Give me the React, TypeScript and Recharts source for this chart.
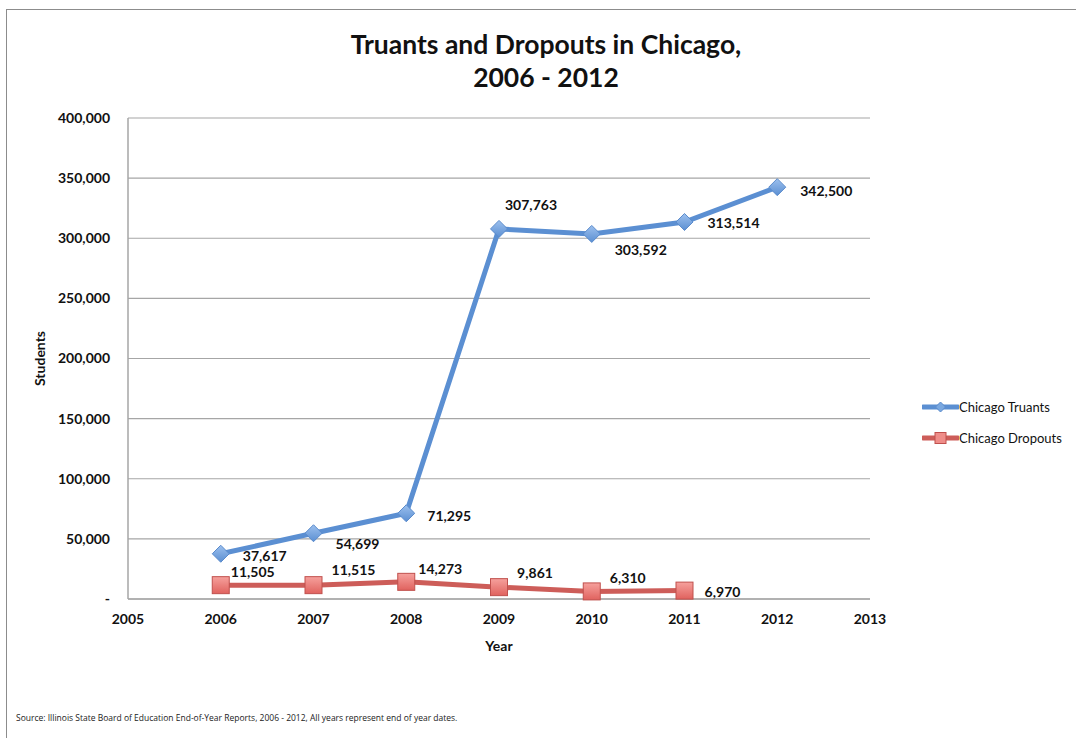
import { LineChart, Line, XAxis, YAxis, CartesianGrid, LabelList } from 'recharts';

const years = [2006, 2007, 2008, 2009, 2010, 2011, 2012];
const truants = [37617, 54699, 71295, 307763, 303592, 313514, 342500];
const dropouts = [11505, 11515, 14273, 9861, 6310, 6970, null];
const xTicks = [2005, 2006, 2007, 2008, 2009, 2010, 2011, 2012, 2013];
const yTicks = [0, 50000, 100000, 150000, 200000, 250000, 300000, 350000, 400000];

const data = years.map((year, i) => ({
    year,
    truants: truants[i],
    dropouts: dropouts[i],
}));

// label nudges (dx, dy) from each marker, Excel-style placement
const truantOffsets = [[44, 2], [44, 10], [43, 2], [32, -24], [49, 16], [49, 1], [49, 3]];
const dropoutOffsets = [[32, -14], [40, -16], [34, -13], [36, -15], [36, -14], [38, 1]];

const BLUE = '#5b8fd2';
const RED = '#cd5d59';
const FONT = 'Lato, "Open Sans", sans-serif';

const fmt = (v: number) => (v === 0 ? '-' : v.toLocaleString('en-US'));

const Diamond = ({ cx, cy }: any) => {
    if (cx == null || cy == null) return null;
    const r = 8.5;
    return (
        <path
            d={`M${cx},${cy - r} L${cx + r},${cy} L${cx},${cy + r} L${cx - r},${cy} Z`}
            fill="url(#blueMark)"
            stroke="#5a8bcc"
            strokeWidth={1}
        />
    );
};

const Square = ({ cx, cy }: any) => {
    if (cx == null || cy == null) return null;
    const s = 8.5;
    return (
        <rect x={cx - s} y={cy - s} width={s * 2} height={s * 2} fill="url(#redMark)" stroke="#c0504d" strokeWidth={1} />
    );
};

const makeLabel = (offsets: number[][]) => (props: any) => {
    const { x, y, value, index } = props;
    if (value == null) return null;
    const [dx, dy] = offsets[index] || [40, 0];
    return (
        <text
            x={x + dx}
            y={y + dy}
            textAnchor="middle"
            dominantBaseline="central"
            fontFamily={FONT}
            fontWeight={700}
            fontSize={14}
            fill="#111"
        >
            {value.toLocaleString('en-US')}
        </text>
    );
};

const legendItems = [
    { name: 'Chicago Truants', color: BLUE, kind: 'diamond' },
    { name: 'Chicago Dropouts', color: RED, kind: 'square' },
];

const ChartLegend = () => (
    <div style={{ position: 'absolute', left: 922, top: 391, fontFamily: FONT, fontSize: 13, color: '#111' }}>
        {legendItems.map((item) => (
            <div key={item.name} style={{ display: 'flex', alignItems: 'center', height: 31 }}>
                <svg width={37} height={14}>
                    <line x1={1} y1={7} x2={36} y2={7} stroke={item.color} strokeWidth={5} strokeLinecap="round" />
                    {item.kind === 'diamond' ? (
                        <path d="M18.5,2 L23.5,7 L18.5,12 L13.5,7 Z" fill="#7aa8e0" stroke="#5a8bcc" />
                    ) : (
                        <rect x={13} y={1.5} width={11} height={11} fill="#ef8d89" stroke="#c0504d" />
                    )}
                </svg>
                <span>{item.name}</span>
            </div>
        ))}
    </div>
);

const App = () => {
    return (
        <div style={{ position: 'absolute', left: 0, top: 0, width: 1076, height: 738, overflow: 'hidden', background: '#fff' }}>
            <div style={{ position: 'absolute', left: 6, top: 9, width: 1200, height: 900, border: '1.5px solid #8c8c8c' }} />
            <div
                style={{
                    position: 'absolute',
                    left: 0,
                    width: 1092,
                    top: 28,
                    textAlign: 'center',
                    fontFamily: FONT,
                    fontWeight: 700,
                    fontSize: 26.5,
                    lineHeight: '33px',
                    color: '#111',
                }}
            >
                Truants and Dropouts in Chicago,
                <br />
                2006 - 2012
            </div>
            <div style={{ position: 'absolute', left: 0, top: 0 }}>
                <LineChart width={1076} height={738} data={data} margin={{ top: 118, right: 206, bottom: 86, left: 8 }}>
                    <defs>
                        <linearGradient id="blueMark" x1="0" y1="0" x2="0" y2="1">
                            <stop offset="0%" stopColor="#9cc0ee" />
                            <stop offset="100%" stopColor="#5b8fd2" />
                        </linearGradient>
                        <linearGradient id="redMark" x1="0" y1="0" x2="0" y2="1">
                            <stop offset="0%" stopColor="#f6a19d" />
                            <stop offset="100%" stopColor="#e0625e" />
                        </linearGradient>
                    </defs>
                    <CartesianGrid vertical={false} stroke="#a6a6a6" strokeWidth={1.2} />
                    <XAxis
                        dataKey="year"
                        type="number"
                        domain={[2005, 2013]}
                        ticks={xTicks}
                        height={53}
                        axisLine={{ stroke: '#a6a6a6', strokeWidth: 1.5 }}
                        tickLine={false}
                        tickSize={6}
                        tickMargin={9}
                        tick={{ fill: '#111', fontFamily: FONT, fontWeight: 700, fontSize: 14 }}
                        label={{
                            value: 'Year',
                            position: 'insideBottom',
                            offset: 1,
                            style: { fill: '#111', fontFamily: FONT, fontWeight: 700, fontSize: 14 },
                        }}
                    />
                    <YAxis
                        type="number"
                        domain={[0, 400000]}
                        ticks={yTicks}
                        width={120}
                        tickFormatter={fmt}
                        axisLine={{ stroke: '#a6a6a6', strokeWidth: 1.5 }}
                        tickLine={false}
                        tickSize={6}
                        tickMargin={12}
                        tick={{ fill: '#111', fontFamily: FONT, fontWeight: 700, fontSize: 14 }}
                        label={{
                            value: 'Students',
                            angle: -90,
                            position: 'insideLeft',
                            offset: 32,
                            style: { textAnchor: 'middle', fill: '#111', fontFamily: FONT, fontWeight: 700, fontSize: 14 },
                        }}
                    />
                    <Line
                        name="Chicago Truants"
                        dataKey="truants"
                        stroke={BLUE}
                        strokeWidth={5}
                        dot={<Diamond />}
                        activeDot={false}
                        isAnimationActive={false}
                    >
                        <LabelList dataKey="truants" content={makeLabel(truantOffsets)} />
                    </Line>
                    <Line
                        name="Chicago Dropouts"
                        dataKey="dropouts"
                        stroke={RED}
                        strokeWidth={5}
                        dot={<Square />}
                        activeDot={false}
                        isAnimationActive={false}
                    >
                        <LabelList dataKey="dropouts" content={makeLabel(dropoutOffsets)} />
                    </Line>
                </LineChart>
            </div>
            <ChartLegend />
            <div
                style={{
                    position: 'absolute',
                    left: 16,
                    top: 712,
                    fontFamily: '"Open Sans", sans-serif',
                    fontSize: 8.5,
                    color: '#222',
                    whiteSpace: 'nowrap',
                }}
            >
                Source: Illinois State Board of Education End-of-Year Reports, 2006 - 2012, All years represent end of year dates.
            </div>
        </div>
    );
};

export default App;
